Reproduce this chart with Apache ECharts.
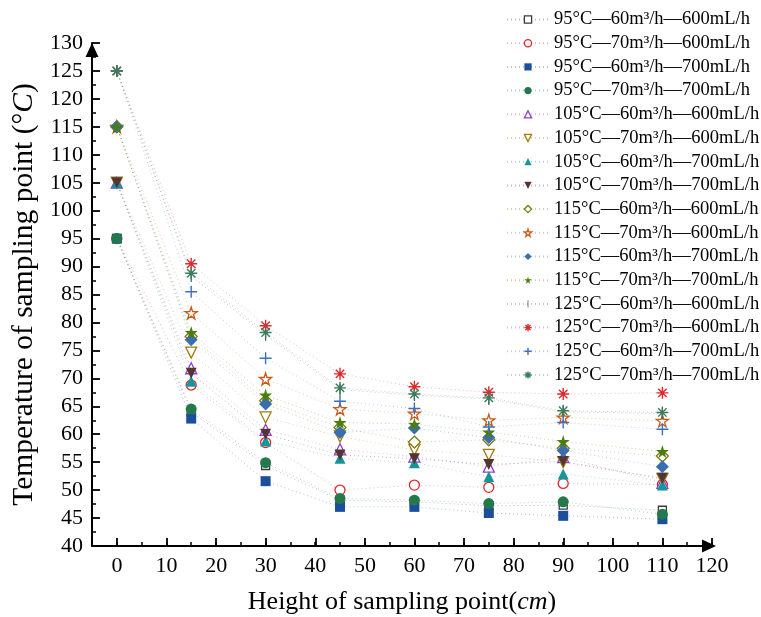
<!DOCTYPE html>
<html><head><meta charset="utf-8">
<script src="https://cdn.jsdelivr.net/npm/echarts@6/dist/echarts.min.js"></script>
<style>html,body{margin:0;padding:0;background:#fff}#c{width:761px;height:617px}</style>
</head><body><div id="c"></div>
<script>
// ---- data ----
const heights = [0, 15, 30, 45, 60, 75, 90, 110];
const xTickLabels = [0, 10, 20, 30, 40, 50, 60, 70, 80, 90, 100, 110, 120];
const seriesNames = [
  '95°C—60m³/h—600mL/h', '95°C—70m³/h—600mL/h', '95°C—60m³/h—700mL/h', '95°C—70m³/h—700mL/h',
  '105°C—60m³/h—600mL/h', '105°C—70m³/h—600mL/h', '105°C—60m³/h—700mL/h', '105°C—70m³/h—700mL/h',
  '115°C—60m³/h—600mL/h', '115°C—70m³/h—600mL/h', '115°C—60m³/h—700mL/h', '115°C—70m³/h—700mL/h',
  '125°C—60m³/h—600mL/h', '125°C—70m³/h—600mL/h', '125°C—60m³/h—700mL/h', '125°C—70m³/h—700mL/h'
];
const t95_60_600  = [95, 64.0, 54.4, 48.2, 47.9, 47.2, 47.3, 46.4];
const t95_70_600  = [95, 68.8, 58.5, 50.0, 50.9, 50.5, 51.2, 51.0];
const t95_60_700  = [95, 62.8, 51.6, 47.0, 47.0, 45.9, 45.4, 44.8];
const t95_70_700  = [95, 64.5, 54.9, 48.5, 48.2, 47.6, 47.9, 45.7];
const t105_60_600 = [105, 71.8, 60.8, 57.3, 56.0, 54.2, 55.9, 51.3];
const t105_70_600 = [105, 74.6, 63.0, 59.6, 57.2, 56.3, 55.0, 52.0];
const t105_60_700 = [105, 69.5, 58.8, 55.7, 54.9, 52.4, 52.9, 50.9];
const t105_70_700 = [105, 70.9, 60.0, 56.3, 55.6, 54.6, 55.1, 52.1];
const t115_60_600 = [115, 77.5, 66.0, 61.2, 58.6, 59.0, 57.5, 56.1];
const t115_70_600 = [115, 81.7, 69.9, 64.5, 63.7, 62.5, 63.0, 62.4];
const t115_60_700 = [115, 76.9, 65.4, 60.3, 61.1, 59.4, 57.1, 54.2];
const t115_70_700 = [115, 78.2, 67.0, 62.1, 61.8, 60.4, 58.7, 56.9];
const t125_60_600 = [125, 88.3, 77.8, 68.0, 67.0, 66.3, 64.0, 63.7];
const t125_70_600 = [125, 90.5, 79.4, 70.8, 68.5, 67.5, 67.2, 67.4];
const t125_60_700 = [125, 85.5, 73.6, 65.9, 64.6, 61.3, 62.1, 60.9];
const t125_70_700 = [125, 88.8, 78.2, 68.3, 67.2, 66.5, 64.2, 63.9];
const seriesValues = [
  t95_60_600, t95_70_600, t95_60_700, t95_70_700,
  t105_60_600, t105_70_600, t105_60_700, t105_70_700,
  t115_60_600, t115_70_600, t115_60_700, t115_70_700,
  t125_60_600, t125_70_600, t125_60_700, t125_70_700
];

// ---- styles ----
const FONT = '"Liberation Serif", "Times New Roman", serif';
const STAR = 'path://M50,0 L61,35 L98,35 L68,57 L79,91 L50,70 L21,91 L32,57 L2,35 L39,35 Z';
const AST = 'path://M0,50 L100,50 M50,0 L50,100 M15,15 L85,85 M85,15 L15,85';
const PLUS = 'path://M0,50 L100,50 M50,0 L50,100';
// thin vertical bar; two tiny corner dots keep the square bounding box
const BAR = 'path://M45,0 L55,0 L55,100 L45,100 Z M0,0 L0.01,0 Z M100,100 L99.99,100 Z';
const marks = [
  {symbol: 'rect', color: '#3a3a3a', hollow: true, size: 8},
  {symbol: 'circle', color: '#e0282c', hollow: true, size: 10},
  {symbol: 'rect', color: '#1b4f9c', size: 10},
  {symbol: 'circle', color: '#23794c', size: 11},
  {symbol: 'triangle', color: '#9040cc', hollow: true, size: 11},
  {symbol: 'triangle', rotate: 180, color: '#a07c10', hollow: true, size: 11},
  {symbol: 'triangle', color: '#16969a', size: 11},
  {symbol: 'triangle', rotate: 180, color: '#553434', size: 11},
  {symbol: 'diamond', color: '#7c7a10', hollow: true, size: 12},
  {symbol: STAR, color: '#c85a1a', hollow: true, size: 12},
  {symbol: 'diamond', color: '#3b6eae', size: 13},
  {symbol: STAR, color: '#4a7d0c', size: 13},
  {symbol: BAR, color: '#555555', size: 12},
  {symbol: AST, color: '#e0282c', stroke: true, size: 12},
  {symbol: PLUS, color: '#3d6fc4', stroke: true, size: 12},
  {symbol: AST, color: '#3a7d5c', stroke: true, size: 12}
];

function styleOf(m) {
  if (m.hollow) return {color: '#ffffff', borderColor: m.color, borderWidth: 1.3};
  if (m.stroke) return {color: m.color, borderColor: m.color, borderWidth: 1.4};
  return {color: m.color, borderWidth: 0};
}

const series = seriesNames.map((name, k) => {
  const m = marks[k];
  return {
    type: 'line', name: name, color: m.color,
    xAxisIndex: 0, yAxisIndex: 0,
    data: heights.map((h, i) => [h, seriesValues[k][i]]),
    symbol: m.symbol, symbolSize: m.size, symbolRotate: m.rotate || 0,
    showAllSymbol: true,
    lineStyle: {color: m.color, width: 1, type: [1, 3], opacity: 0.35},
    itemStyle: styleOf(m),
    emphasis: {disabled: true},
    animation: false
  };
});

const axisLineStyle = {color: '#000', width: 2};
const option = {
  backgroundColor: '#fff',
  animation: false,
  grid: [
    {left: 92, right: 49, top: 43, bottom: 71, outerBoundsMode: 'none', containLabel: false},
    {left: 117, right: 49, top: 43, bottom: 71, outerBoundsMode: 'none', containLabel: false}
  ],
  legend: {
    orient: 'vertical', left: 501, top: 5,
    itemWidth: 42, itemHeight: 9, itemGap: 4.7,
    textStyle: {fontFamily: FONT, fontSize: 18.5, color: '#000'},
    data: seriesNames.map((n, k) => ({name: n, itemStyle: styleOf(marks[k])}))
  },
  xAxis: [
    {
      gridIndex: 0, type: 'value', min: -5, max: 120, interval: 5,
      axisLine: {show: true, onZero: false, lineStyle: axisLineStyle, symbol: ['none', 'triangle'], symbolSize: [13, 14], symbolOffset: [0, -3]},
      axisTick: {show: true, inside: true, length: 4, lineStyle: {color: '#000', width: 1.5}},
      axisLabel: {show: false},
      splitLine: {show: false},
      name: '{n|Height of sampling point(}{i|cm}{n|)}',
      nameLocation: 'middle', nameGap: 43,
      nameTextStyle: {fontFamily: FONT, fontSize: 26, color: '#000',
        rich: {n: {fontFamily: FONT, fontSize: 26, color: '#000'}, i: {fontFamily: FONT, fontSize: 26, fontStyle: 'italic', color: '#000'}}}
    },
    {
      gridIndex: 1, type: 'value', min: 0, max: 120, interval: 10,
      axisLine: {show: false, onZero: false},
      axisTick: {show: true, inside: true, length: 8, lineStyle: {color: '#000', width: 1.8}},
      axisLabel: {show: true, margin: 9, fontFamily: FONT, fontSize: 22, color: '#000',
        formatter: v => (xTickLabels.indexOf(v) >= 0 ? String(v) : '')},
      splitLine: {show: false}
    }
  ],
  yAxis: [
    {
      gridIndex: 0, type: 'value', min: 40, max: 130, interval: 5,
      axisLine: {show: true, onZero: false, lineStyle: axisLineStyle, symbol: ['none', 'triangle'], symbolSize: [13, 14], symbolOffset: [0, -7]},
      axisTick: {show: true, inside: true, length: 8, lineStyle: {color: '#000', width: 1.8}},
      minorTick: {show: true, splitNumber: 2, length: 4, lineStyle: {color: '#000', width: 1.5}},
      axisLabel: {margin: 9, fontFamily: FONT, fontSize: 22, color: '#000'},
      splitLine: {show: false},
      name: '{n|Temperature of sampling point (°}{i|C}{n|)}',
      nameLocation: 'middle', nameGap: 48, nameRotate: 90,
      nameTextStyle: {fontFamily: FONT, fontSize: 29.5, color: '#000',
        rich: {n: {fontFamily: FONT, fontSize: 29.5, color: '#000'}, i: {fontFamily: FONT, fontSize: 29.5, fontStyle: 'italic', color: '#000'}}}
    },
    {gridIndex: 1, type: 'value', min: 40, max: 130, show: false, axisLine: {onZero: false}}
  ],
  series: series
};
const chart = echarts.init(document.getElementById('c'), null, {renderer: 'canvas'});
chart.setOption(option);
</script>
</body></html>
